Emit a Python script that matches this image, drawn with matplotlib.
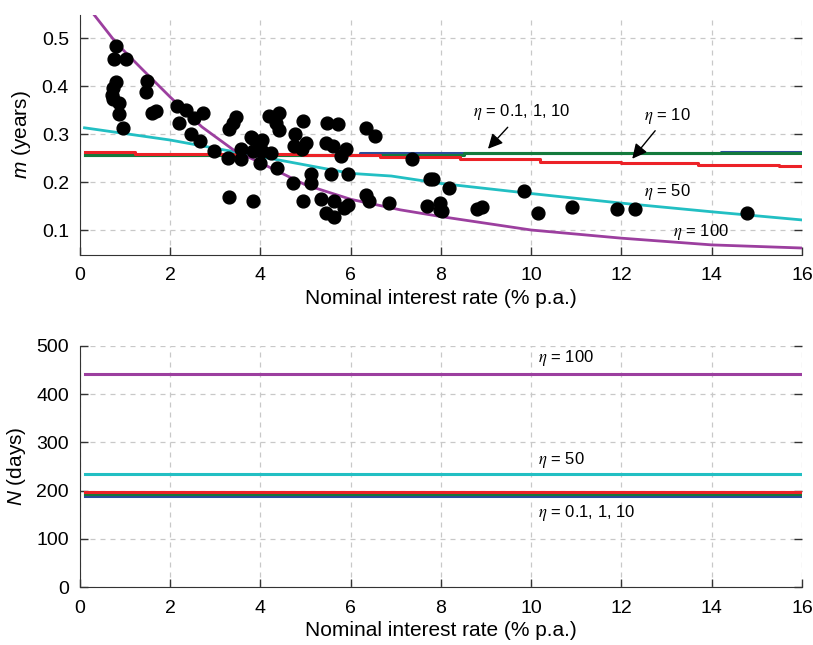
import matplotlib
matplotlib.use('Agg')
import matplotlib.pyplot as plt
import numpy as np

plt.rcParams['font.family'] = ['Liberation Sans', 'DejaVu Sans']
plt.rcParams['mathtext.fontset'] = 'custom'
plt.rcParams['mathtext.it'] = 'Liberation Sans:italic'
plt.rcParams['mathtext.rm'] = 'Liberation Sans'
plt.rcParams['font.size'] = 14

# observed data (rate % p.a., m years)
obs_rate = [0.80, 0.76, 1.02, 0.79, 0.74, 0.70, 0.74, 0.87, 0.87, 0.95, 1.48, 1.46, 1.59, 1.69,
            2.16, 2.35, 2.53, 2.72, 2.20, 2.45, 2.65, 2.97, 3.27, 3.56, 3.56, 3.46, 3.39, 3.31,
            3.31, 3.83, 3.82, 4.03, 3.84, 4.03, 3.98, 4.23, 3.99, 4.37, 4.19, 4.41, 4.35, 4.40,
            4.77, 4.75, 4.94, 5.01, 4.92, 4.72, 5.12, 5.12, 4.94, 3.80,
            5.48, 5.71, 5.45, 5.60, 5.90, 5.79, 5.56, 5.93, 5.34, 5.63, 5.45, 5.63, 5.85, 5.93,
            6.33, 6.54, 6.33, 6.41, 6.84, 7.35, 7.75, 7.83, 8.17, 9.83, 7.69, 7.98, 7.97, 8.02,
            8.80, 8.91, 10.16, 10.90, 11.90, 12.31, 14.78]
obs_m = [0.483, 0.456, 0.456, 0.409, 0.395, 0.381, 0.374, 0.365, 0.342, 0.313, 0.411, 0.388, 0.344, 0.348,
         0.358, 0.351, 0.334, 0.344, 0.324, 0.300, 0.285, 0.265, 0.251, 0.247, 0.268, 0.335, 0.322, 0.310,
         0.168, 0.161, 0.292, 0.287, 0.265, 0.265, 0.240, 0.261, 0.280, 0.230, 0.337, 0.344, 0.324, 0.308,
         0.300, 0.275, 0.327, 0.282, 0.268, 0.198, 0.216, 0.199, 0.160, 0.294,
         0.324, 0.320, 0.281, 0.275, 0.268, 0.254, 0.216, 0.216, 0.164, 0.160, 0.136, 0.127, 0.146, 0.152,
         0.313, 0.296, 0.174, 0.160, 0.157, 0.249, 0.206, 0.206, 0.188, 0.181, 0.150, 0.156, 0.142, 0.140,
         0.143, 0.147, 0.136, 0.147, 0.143, 0.143, 0.136]

# model curves, m (years)
eta100_x = [0.3, 0.8, 1.4, 2.0, 2.7, 3.4, 4.0, 5.0, 6.0, 7.1, 8.0, 10.0, 12.0, 14.0, 16.0]
eta100_m = [0.55, 0.49, 0.433, 0.377, 0.315, 0.267, 0.24, 0.194, 0.164, 0.142, 0.128, 0.10, 0.083, 0.069, 0.0625]
eta50_x = [0.1, 2.0, 4.0, 6.0, 6.9, 8.0, 10.0, 12.0, 14.0, 16.0]
eta50_m = [0.313, 0.2875, 0.253, 0.218, 0.2125, 0.197, 0.176, 0.156, 0.138, 0.121]
red_x = [0.1, 1.22, 1.22, 4.95, 4.95, 6.65, 6.65, 8.43, 8.43, 10.2, 10.2, 12.0, 12.0, 13.7, 13.7, 15.5, 15.5, 16.0]
red_m = [0.2625, 0.2625, 0.258, 0.258, 0.256, 0.256, 0.2515, 0.2515, 0.247, 0.247, 0.242, 0.242,
         0.239, 0.239, 0.236, 0.236, 0.233, 0.233]
green_x = [0.1, 8.5, 8.5, 16.0]
green_m = [0.256, 0.256, 0.260, 0.260]
blue_x = [0.1, 6.2, 6.2, 14.2, 14.2, 16.0]
blue_m = [0.256, 0.256, 0.2605, 0.2605, 0.2625, 0.2625]

# bottom panel, N (days)
n_x = [0.1, 16.0]
n_eta100 = 442
n_eta50 = 235
n_red = 197.5
n_green = 193
n_blue = 189

c_purple = '#9c3f9f'
c_cyan = '#22bfc3'
c_red = '#ec2227'
c_green = '#147a3c'
c_blue = '#2c4d9c'

fig = plt.figure(figsize=(8.13, 6.45), dpi=100)
ax1 = fig.add_axes([0.0984, 0.6047, 0.888, 0.372])
ax2 = fig.add_axes([0.0984, 0.0899, 0.888, 0.3737])


def style(ax):
    ax.grid(True, color='#c8c8c8', linestyle=(0, (4, 4)), linewidth=0.9)
    ax.set_axisbelow(True)
    ax.spines['top'].set_visible(False)
    ax.spines['right'].set_visible(False)
    ax.spines['left'].set_color('#333333')
    ax.spines['bottom'].set_color('#333333')
    ax.tick_params(direction='in', length=6, width=1, color='#333333', right=True)
    ax.tick_params(axis='x', pad=9)
    ax.tick_params(axis='y', pad=8)
    ax.set_xlim(0, 16)
    ax.set_xticks(range(0, 17, 2))
    ax.set_xlabel('Nominal interest rate (% p.a.)', fontsize=15, labelpad=3)


def eta_text(ax, x, y, s, **kw):
    return ax.text(x, y, s, fontsize=12, ha='left', va='center', math_fontfamily='stix', **kw)


# top panel
style(ax1)
ax1.plot(blue_x, blue_m, color=c_blue, lw=2.2)
ax1.plot(green_x, green_m, color=c_green, lw=2.2)
ax1.plot(red_x, red_m, color=c_red, lw=2.2)
ax1.plot(eta50_x, eta50_m, color=c_cyan, lw=2)
ax1.plot(eta100_x, eta100_m, color=c_purple, lw=2)
ax1.scatter(obs_rate, obs_m, s=85, color='black', zorder=5)
ax1.set_ylim(0.048, 0.548)
ax1.set_yticks([0.1, 0.2, 0.3, 0.4, 0.5])
ax1.set_ylabel(r'$m$ (years)', fontsize=15, labelpad=6)

arrow = dict(arrowstyle='-|>', color='black', lw=1, mutation_scale=22)
ax1.annotate(r'$\eta$ = 0.1, 1, 10', xy=(9.0, 0.265), xytext=(8.7, 0.345),
             fontsize=12, ha='left', va='center', math_fontfamily='stix', arrowprops=arrow)
ax1.annotate(r'$\eta$ = 10', xy=(12.2, 0.244), xytext=(12.5, 0.338),
             fontsize=12, ha='left', va='center', math_fontfamily='stix', arrowprops=arrow)
eta_text(ax1, 12.5, 0.18, r'$\eta$ = 50')
eta_text(ax1, 13.15, 0.096, r'$\eta$ = 100')

# bottom panel
style(ax2)
ax2.plot(n_x, [n_blue] * 2, color=c_blue, lw=2.2)
ax2.plot(n_x, [n_green] * 2, color=c_green, lw=2.2)
ax2.plot(n_x, [n_red] * 2, color=c_red, lw=2.2)
ax2.plot(n_x, [n_eta50] * 2, color=c_cyan, lw=2.2)
ax2.plot(n_x, [n_eta100] * 2, color=c_purple, lw=2.2)
ax2.set_ylim(0, 500)
ax2.set_yticks(range(0, 501, 100))
ax2.set_ylabel(r'$N$ (days)', fontsize=15, labelpad=6)
eta_text(ax2, 10.15, 475, r'$\eta$ = 100')
eta_text(ax2, 10.15, 263, r'$\eta$ = 50')
eta_text(ax2, 10.15, 153, r'$\eta$ = 0.1, 1, 10')

fig.savefig('out.png', dpi=100)
